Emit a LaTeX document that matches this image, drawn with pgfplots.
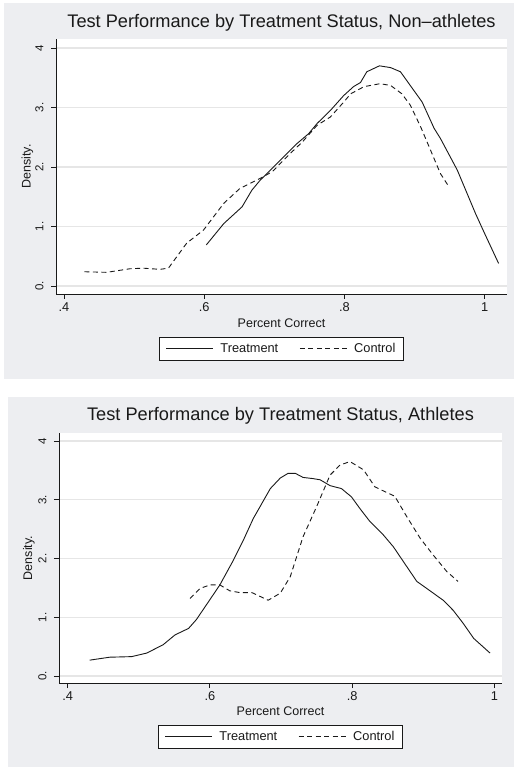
\documentclass[border=0pt]{standalone}
\usepackage{pgfplots}
\pgfplotsset{compat=1.18}
\usepackage{pgfplotstable}
\usepackage{fontspec}
\setmainfont{Liberation Sans}
\definecolor{bgg}{RGB}{237,238,241}
\definecolor{gridc}{RGB}{230,230,230}
\definecolor{txt}{RGB}{25,25,25}

\pgfplotstableread{
x y
0.603 0.69
0.628 1.05
0.654 1.33
0.668 1.61
0.680 1.78
0.704 2.06
0.732 2.39
0.749 2.56
0.761 2.73
0.780 2.95
0.799 3.20
0.813 3.35
0.823 3.42
0.832 3.60
0.850 3.70
0.866 3.67
0.880 3.60
0.894 3.37
0.911 3.09
0.928 2.65
0.937 2.48
0.961 1.95
0.987 1.22
0.999 0.91
1.020 0.38
}\topT
\pgfplotstableread{
x y
0.429 0.24
0.461 0.23
0.494 0.29
0.513 0.30
0.537 0.28
0.549 0.30
0.575 0.72
0.599 0.94
0.628 1.39
0.651 1.64
0.680 1.81
0.697 1.92
0.723 2.23
0.740 2.42
0.761 2.70
0.780 2.84
0.799 3.09
0.809 3.23
0.828 3.35
0.851 3.40
0.866 3.37
0.882 3.23
0.894 3.04
0.909 2.67
0.923 2.28
0.937 1.89
0.949 1.67
}\topC
\pgfplotstableread{
x y
0.431 0.27
0.459 0.32
0.490 0.33
0.511 0.39
0.534 0.53
0.551 0.70
0.570 0.81
0.581 0.96
0.595 1.21
0.614 1.55
0.633 1.97
0.647 2.31
0.661 2.68
0.685 3.19
0.699 3.37
0.710 3.45
0.720 3.45
0.731 3.38
0.745 3.36
0.755 3.34
0.769 3.24
0.785 3.19
0.799 3.05
0.811 2.85
0.825 2.63
0.844 2.40
0.858 2.20
0.877 1.86
0.891 1.61
0.905 1.49
0.928 1.29
0.942 1.12
0.956 0.90
0.971 0.64
0.994 0.39
}\botT
\pgfplotstableread{
x y
0.572 1.32
0.586 1.49
0.600 1.55
0.614 1.55
0.628 1.45
0.642 1.42
0.659 1.42
0.682 1.29
0.699 1.41
0.713 1.69
0.731 2.37
0.750 2.88
0.769 3.42
0.783 3.59
0.797 3.65
0.816 3.51
0.832 3.22
0.844 3.15
0.860 3.06
0.877 2.71
0.896 2.34
0.914 2.06
0.933 1.78
0.949 1.61
}\botC

\pgfplotsset{
  statastyle/.style={
    scale only axis,
    axis x line*=bottom, axis y line*=left,
    axis line style={txt, line width=0.9bp},
    tick align=outside, major tick length=5bp,
    tick style={txt, line width=0.8bp},
    xtick={0.4,0.6,0.8,1}, xticklabels={.4,.6,.8,1},
    ytick={0,1,2,3,4}, yticklabels={0.,1.,2.,3.,4},
    ymajorgrids, grid style={gridc, line width=1.1bp},
    /pgf/number format/assume math mode=true,
    ticklabel style={font=\fontsize{12.8bp}{14bp}\selectfont, text=txt},
    yticklabel style={rotate=90, anchor=south, yshift=4bp, font=\fontsize{11.5bp}{13bp}\selectfont},
    xlabel={Percent Correct}, ylabel={Density.},
    label style={font=\fontsize{12.5bp}{14bp}\selectfont, text=txt},
    axis background/.style={fill=white},
    title style={font=\fontsize{18.2bp}{20bp}\selectfont, text=txt, anchor=base},
    legend columns=2,
    legend image code/.code={\draw[##1] (0bp,0bp) -- (47bp,0bp);},
    legend style={draw=txt, line width=0.9bp, fill=white,
      font=\fontsize{12.8bp}{14bp}\selectfont, text=txt,
      inner xsep=6bp, inner ysep=4bp,
      /tikz/every odd column/.append style={column sep=5bp},
      /tikz/every even column/.append style={column sep=19bp}},
    tsolid/.style={txt, line width=0.9bp},
    tdash/.style={txt, line width=0.9bp, dash pattern=on 5bp off 3.5bp},
  }
}

\begin{document}
\begin{tikzpicture}
\fill[white] (0bp,0bp) rectangle (514bp,767bp);
\path[use as bounding box] (0bp,0bp) rectangle (514bp,767bp);
\fill[bgg] (4bp,388bp) rectangle (514bp,764bp);
\fill[bgg] (8bp,0bp) rectangle (514bp,370bp);

\begin{axis}[statastyle,
  at={(56bp,473bp)}, anchor=south west,
  width=451bp, height=255bp,
  xmin=0.3886, xmax=1.032, ymin=-0.134, ymax=4.151,
  title={Test Performance by Treatment Status, Non\textendash athletes},
  title style={at={(axis description cs:0.5,1.0235)}},
  xlabel style={at={(axis description cs:0.5,-0.1137)}, anchor=center},
  ylabel style={at={(axis description cs:-0.0632,0.5)}, anchor=center, rotate=0},
  legend style={at={(axis description cs:0.5,-0.169)}, anchor=north},
]
\addplot[tsolid] table[x=x,y=y] {\topT};
\addlegendentry{Treatment}
\addplot[tdash] table[x=x,y=y] {\topC};
\addlegendentry{Control}
\end{axis}

\begin{axis}[statastyle,
  at={(59bp,84bp)}, anchor=south west,
  width=443bp, height=250bp,
  xmin=0.3878, xmax=1.0108, ymin=-0.119, ymax=4.136,
  title={Test Performance by Treatment Status, Athletes},
  title style={at={(axis description cs:0.5,1.028)}},
  xlabel style={at={(axis description cs:0.5,-0.112)}, anchor=center},
  ylabel style={at={(axis description cs:-0.0677,0.5)}, anchor=center, rotate=0},
  legend style={at={(axis description cs:0.5,-0.168)}, anchor=north},
]
\addplot[tsolid] table[x=x,y=y] {\botT};
\addlegendentry{Treatment}
\addplot[tdash] table[x=x,y=y] {\botC};
\addlegendentry{Control}
\end{axis}
\end{tikzpicture}
\end{document}
